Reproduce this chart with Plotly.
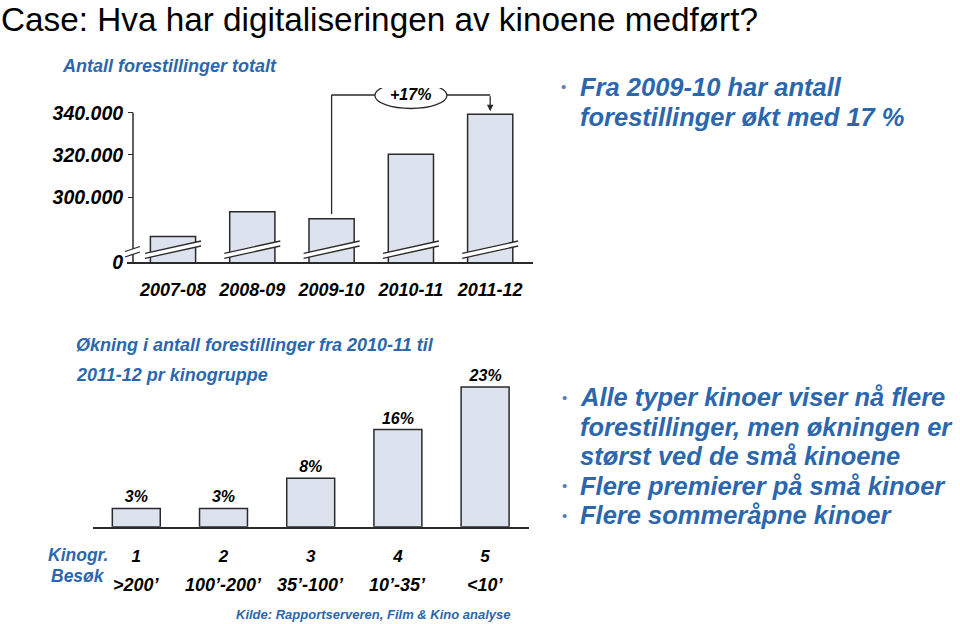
import plotly.graph_objects as go

# ---------------- data ----------------
SEASONS = ["2007-08", "2008-09", "2009-10", "2010-11", "2011-12"]
SHOWINGS = [281400, 293200, 289900, 320300, 339200]
Y_TICK_VALUES = [300000, 320000, 340000]
Y_TICK_TEXT = ["300.000", "320.000", "340.000"]
BREAK_LABEL = "0"

GROUPS = ["1", "2", "3", "4", "5"]
VISITS = ["&gt;200’", "100’-200’", "35’-100’", "10’-35’", "&lt;10’"]
GROWTH_PCT = [3, 3, 8, 16, 23]

TITLE = "Case: Hva har digitaliseringen av kinoene medført?"
TOP_CHART_TITLE = "Antall forestillinger totalt"
BOTTOM_CHART_TITLE = ["Økning i antall forestillinger fra 2010-11 til", "2011-12 pr kinogruppe"]
CHANGE_LABEL = "+17%"
SOURCE = "Kilde: Rapportserveren, Film &amp; Kino analyse"
TOP_BULLETS = [["Fra 2009-10 har antall", "forestillinger økt med 17 %"]]
BOTTOM_BULLETS = [
    ["Alle typer kinoer viser nå flere", "forestillinger, men økningen er", "størst ved de små kinoene"],
    ["Flere premierer på små kinoer"],
    ["Flere sommeråpne kinoer"],
]

# ---------------- layout helpers ----------------
W, H = 960, 624
FONT = "Liberation Sans, Arial, sans-serif"
BLUE = "#2c67ad"
BAR_FILL = "#dce2ee"
BAR_LINE = "#2a2a2a"


def px(x):
    return x / W


def py(y):
    return 1 - y / H


def f(size, color="black", bold=True, italic=True):
    d = dict(family=FONT, size=size, color=color)
    if bold:
        d["weight"] = "bold"
    if italic:
        d["style"] = "italic"
    return d


# top chart geometry (pixels)
T_BOTTOM, T_TOP = 262, 88
T_PER_PX = 20000 / 42.3
Y1_LO = 269400
Y1_HI = Y1_LO + (T_BOTTOM - T_TOP) * T_PER_PX
T_C0, T_STEP = 173, 79.3
T_XL, T_XR = 127, 533


def y1(p):
    return Y1_LO + (T_BOTTOM - p) * T_PER_PX


# bottom chart geometry (pixels)
B_BOTTOM, B_TOP = 526.7, 372
B_PER_PCT = 6.07
B_C0, B_STEP = 136.3, 87.2
B_XL, B_XR = B_C0 - B_STEP / 2, B_C0 + 4.5 * B_STEP

fig = go.Figure()

fig.add_trace(go.Bar(
    x=list(range(len(SEASONS))), y=SHOWINGS, xaxis="x", yaxis="y",
    marker=dict(color=BAR_FILL, line=dict(color=BAR_LINE, width=1.5)),
    width=0.57, hoverinfo="skip", showlegend=False,
))

fig.add_trace(go.Bar(
    x=list(range(len(GROUPS))), y=GROWTH_PCT, xaxis="x2", yaxis="y2",
    marker=dict(color=BAR_FILL, line=dict(color=BAR_LINE, width=1.5)),
    width=0.55, text=[f"{v}%" for v in GROWTH_PCT], textposition="outside",
    textfont=f(16), cliponaxis=False, hoverinfo="skip", showlegend=False,
))

shapes = []
annotations = []

# y axis line of top chart
shapes.append(dict(type="line", xref="paper", yref="y", x0=px(133), x1=px(133),
                   y0=Y1_LO, y1=Y_TICK_VALUES[-1], line=dict(color=BAR_LINE, width=1.5)))

# break marks on bars
half = 28 / T_STEP
for i in range(len(SEASONS)):
    xa, xb = i - half, i + half
    ya_lo, ya_hi = y1(258.3), y1(253.3)
    yb_lo, yb_hi = y1(246), y1(241)
    shapes.append(dict(type="path", xref="x", yref="y",
                       path=f"M {xa},{ya_lo} L {xb},{yb_lo} L {xb},{yb_hi} L {xa},{ya_hi} Z",
                       fillcolor="white", line=dict(width=0)))
    shapes.append(dict(type="line", xref="x", yref="y", x0=xa, y0=ya_lo, x1=xb, y1=yb_lo,
                       line=dict(color=BAR_LINE, width=1.3)))
    shapes.append(dict(type="line", xref="x", yref="y", x0=xa, y0=ya_hi, x1=xb, y1=yb_hi,
                       line=dict(color=BAR_LINE, width=1.3)))

# break mark on y axis
shapes.append(dict(type="path", xref="paper", yref="paper",
                   path=f"M {px(125)},{py(257)} L {px(140)},{py(252)} L {px(140)},{py(246.5)} L {px(125)},{py(251.5)} Z",
                   fillcolor="white", line=dict(width=0)))
for dy in (0, -5.5):
    shapes.append(dict(type="line", xref="paper", yref="paper",
                       x0=px(125), y0=py(257 + dy), x1=px(140), y1=py(252 + dy),
                       line=dict(color=BAR_LINE, width=1.3)))

# +17% bracket
bracket_y = y1(95)
shapes.append(dict(type="line", xref="x", yref="y", x0=2, x1=2,
                   y0=SHOWINGS[2] + 4.5 * T_PER_PX, y1=bracket_y, line=dict(color=BAR_LINE, width=1.3)))
shapes.append(dict(type="line", xref="x", yref="y", x0=2, x1=4,
                   y0=bracket_y, y1=bracket_y, line=dict(color=BAR_LINE, width=1.3)))
ell_half = 36 / T_STEP
shapes.append(dict(type="circle", xref="x", yref="y", x0=3 - ell_half, x1=3 + ell_half,
                   y0=y1(108.5), y1=y1(82.5), fillcolor="white", line=dict(color=BAR_LINE, width=1.3)))
annotations.append(dict(xref="x", yref="y", x=3, y=bracket_y, text=CHANGE_LABEL, showarrow=False,
                        font=f(16), xanchor="center", yanchor="middle"))
annotations.append(dict(xref="x", yref="y", x=4, y=SHOWINGS[4] + 3 * T_PER_PX, text="",
                        showarrow=True, ax=0, ay=-(114.7 - 3 - 95), axref="pixel", ayref="pixel",
                        arrowhead=2, arrowsize=1, arrowwidth=1.3, arrowcolor=BAR_LINE))

# titles and texts
annotations.append(dict(xref="paper", yref="paper", x=0, y=1, text=TITLE, showarrow=False,
                        xanchor="left", yanchor="top", borderpad=0,
                        font=f(33.3, bold=False, italic=False)))
annotations.append(dict(xref="paper", yref="paper", x=px(60), y=py(66), text=TOP_CHART_TITLE,
                        showarrow=False, xanchor="left", yanchor="middle", font=f(18, BLUE)))
for k, line in enumerate(BOTTOM_CHART_TITLE):
    annotations.append(dict(xref="paper", yref="paper", x=px(74), y=py(345 + 30 * k), text=line,
                            showarrow=False, xanchor="left", yanchor="middle", font=f(18, BLUE)))

for i, v in enumerate(VISITS):
    annotations.append(dict(xref="x2", yref="paper", x=i, y=py(585), text=v, showarrow=False,
                            xanchor="center", yanchor="middle", font=f(18)))
annotations.append(dict(xref="paper", yref="paper", x=px(78), y=py(555), text="Kinogr.", showarrow=False,
                        xanchor="center", yanchor="middle", font=f(17.5, BLUE)))
annotations.append(dict(xref="paper", yref="paper", x=px(78), y=py(576), text="Besøk", showarrow=False,
                        xanchor="center", yanchor="middle", font=f(17.5, BLUE)))
annotations.append(dict(xref="paper", yref="paper", x=px(513), y=py(614), text=SOURCE, showarrow=False,
                        xanchor="right", yanchor="middle", font=f(13, BLUE)))


def add_bullets(items, y_start, step, bx, tx, size):
    yy = y_start
    for item in items:
        annotations.append(dict(xref="paper", yref="paper", x=px(bx), y=py(yy), text="•", showarrow=False,
                                xanchor="center", yanchor="middle",
                                font=dict(family=FONT, size=15, color="#5a7fb0")))
        for line in item:
            annotations.append(dict(xref="paper", yref="paper", x=px(tx), y=py(yy), text=line,
                                    showarrow=False, xanchor="left", yanchor="middle", font=f(size, BLUE)))
            yy += step


add_bullets(TOP_BULLETS, 86.7, 30, 563, 578, 25.5)
add_bullets(BOTTOM_BULLETS, 397, 29.5, 564, 578, 25.5)

fig.update_layout(
    width=W, height=H, margin=dict(l=0, r=0, t=0, b=0, autoexpand=False),
    paper_bgcolor="white", plot_bgcolor="rgba(0,0,0,0)",
    shapes=shapes, annotations=annotations, bargap=0.4,
    xaxis=dict(domain=[px(T_XL), px(T_XR)], range=[(T_XL - T_C0) / T_STEP, (T_XR - T_C0) / T_STEP],
               anchor="y", tickmode="array", tickvals=list(range(len(SEASONS))), ticktext=SEASONS,
               showline=True, linecolor=BAR_LINE, linewidth=1.5, showgrid=False, zeroline=False,
               ticks="", ticklabelstandoff=11, tickfont=f(18), fixedrange=True, automargin=False),
    yaxis=dict(domain=[py(T_BOTTOM), py(T_TOP)], range=[Y1_LO, Y1_HI], anchor="free", position=px(133),
               tickmode="array", tickvals=[Y1_LO] + Y_TICK_VALUES, ticktext=[BREAK_LABEL] + Y_TICK_TEXT,
               showline=False, showgrid=False, zeroline=False, ticks="outside", ticklen=5,
               tickcolor=BAR_LINE, tickwidth=1.3, tickfont=f(19.5), ticklabelstandoff=1, fixedrange=True,
               automargin=False),
    xaxis2=dict(domain=[px(B_XL), px(B_XR)], range=[-0.5, 4.5], anchor="y2", tickmode="array",
                tickvals=list(range(len(GROUPS))), ticktext=GROUPS, showline=True, linecolor=BAR_LINE,
                linewidth=1.5, showgrid=False, zeroline=False, ticks="", ticklabelstandoff=13,
                tickfont=f(17), fixedrange=True, automargin=False),
    yaxis2=dict(domain=[py(B_BOTTOM), py(B_TOP)], range=[0, (B_BOTTOM - B_TOP) / B_PER_PCT], anchor="x2",
                visible=False, fixedrange=True, automargin=False),
)

POST = (
    "document.documentElement.style.margin='0';document.documentElement.style.padding='0';"
    "document.documentElement.style.overflow='hidden';"
    "document.body.style.margin='0';document.body.style.padding='0';document.body.style.overflow='hidden';"
)
fig.write_html("out.html", config={"displayModeBar": False}, post_script=POST)
